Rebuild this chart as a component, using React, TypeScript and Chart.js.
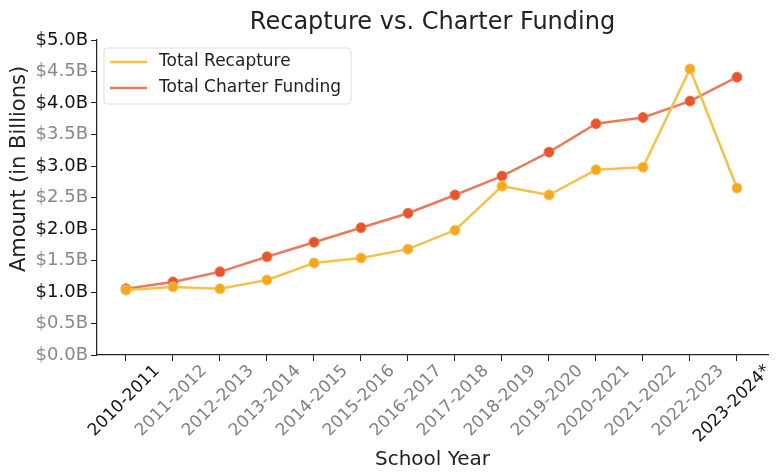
import React, { useEffect, useRef } from "react";
import { Chart, registerables } from "chart.js";

Chart.register(...registerables);

const schoolYears = [
  "2010-2011", "2011-2012", "2012-2013", "2013-2014", "2014-2015", "2015-2016", "2016-2017",
  "2017-2018", "2018-2019", "2019-2020", "2020-2021", "2021-2022", "2022-2023", "2023-2024*",
];
const totalRecapture = [1.03, 1.08, 1.05, 1.19, 1.46, 1.54, 1.68, 1.98, 2.68, 2.54, 2.94, 2.98, 4.54, 2.65];
const totalCharter = [1.05, 1.16, 1.32, 1.56, 1.79, 2.02, 2.25, 2.54, 2.84, 3.22, 3.67, 3.77, 4.03, 4.41];

const FONT = "'DejaVu Sans', sans-serif";

const textPlugin = {
  id: "customTexts",
  afterDraw(chart: any) {
    const { ctx, chartArea } = chart;
    ctx.save();
    ctx.font = `24px ${FONT}`;
    ctx.fillStyle = "#222";
    ctx.textAlign = "center";
    ctx.textBaseline = "middle";
    ctx.fillText("Recapture vs. Charter Funding", (chartArea.left + chartArea.right) / 2, 23);
    ctx.translate(20, 169);
    ctx.rotate(-Math.PI / 2);
    ctx.font = `21px ${FONT}`;
    ctx.fillText("Amount (in Billions)", 0, 0);
    ctx.restore();
  },
};

const legendPlugin = {
  id: "customLegend",
  afterDatasetsDraw(chart: any) {
    const { ctx, chartArea } = chart;
    const x0 = chartArea.left + 7;
    const y0 = chartArea.top + 8;
    ctx.save();
    ctx.fillStyle = "rgba(255,255,255,0.85)";
    ctx.strokeStyle = "#dddddd";
    ctx.lineWidth = 1;
    ctx.beginPath();
    ctx.roundRect(x0, y0, 247, 56, 3);
    ctx.fill();
    ctx.stroke();
    ctx.font = `17px ${FONT}`;
    ctx.textBaseline = "middle";
    ctx.textAlign = "left";
    chart.data.datasets.forEach((ds: any, i: number) => {
      const y = y0 + 14 + i * 26;
      ctx.strokeStyle = ds.borderColor;
      ctx.lineWidth = 2.5;
      ctx.beginPath();
      ctx.moveTo(x0 + 6, y);
      ctx.lineTo(x0 + 43, y);
      ctx.stroke();
      ctx.fillStyle = "#222";
      ctx.fillText(ds.label, x0 + 55, y);
    });
    ctx.restore();
  },
};

export default function App() {
  const ref = useRef<HTMLCanvasElement>(null);
  useEffect(() => {
    document.body.style.margin = "0";
    const chart = new Chart(ref.current!, {
      type: "line",
      data: {
        datasets: [
          {
            label: "Total Recapture",
            data: totalRecapture.map((v, i) => ({ x: i, y: v })),
            borderColor: "#f2c24c",
            borderWidth: 2.5,
            pointBackgroundColor: "#f4a822",
            pointBorderColor: "#f7c452",
            pointBorderWidth: 1,
            pointRadius: 5,
          },
          {
            label: "Total Charter Funding",
            data: totalCharter.map((v, i) => ({ x: i, y: v })),
            borderColor: "#e77c5c",
            borderWidth: 2.5,
            pointBackgroundColor: "#e8552c",
            pointBorderColor: "#ee7a55",
            pointBorderWidth: 1,
            pointRadius: 5,
          },
        ],
      },
      options: {
        animation: false,
        responsive: false,
        layout: { padding: { top: 40, right: 11, left: 0, bottom: 0 } },
        plugins: { legend: { display: false }, title: { display: false }, tooltip: { enabled: false } },
        scales: {
          x: {
            type: "linear",
            min: -0.617,
            max: 13.66,
            afterBuildTicks: (scale: any) => {
              scale.ticks = schoolYears.map((_, i) => ({ value: i }));
            },
            afterFit: (scale: any) => {
              scale.height = 117;
            },
            grid: { drawOnChartArea: false, drawTicks: true, tickLength: 6, color: "#222" },
            border: { display: true, color: "#222", width: 1.2 },
            ticks: {
              autoSkip: false,
              maxRotation: 45,
              minRotation: 45,
              labelOffset: 31,
              padding: 0,
              font: { family: FONT, size: 17 },
              color: (ctx: any) =>
                ctx.index === 0 || ctx.index === schoolYears.length - 1 ? "#111" : "#808080",
              callback: (v: any) => schoolYears[v] ?? "",
            },
            title: {
              display: true,
              text: "School Year",
              font: { family: FONT, size: 20 },
              color: "#222",
              padding: { top: 0, bottom: 0 },
            },
          },
          y: {
            min: 0,
            max: 5,
            afterFit: (scale: any) => {
              scale.width = 97;
            },
            grid: { drawOnChartArea: false, drawTicks: true, tickLength: 6, color: "#222" },
            border: { display: true, color: "#222", width: 1.2 },
            ticks: {
              stepSize: 0.5,
              padding: 3,
              font: { family: FONT, size: 18 },
              color: (ctx: any) => {
                const v = ctx.tick.value;
                return Number.isInteger(v) && v > 0 ? "#111" : "#888";
              },
              callback: (v: any) => `$${Number(v).toFixed(1)}B`,
            },
          },
        },
      },
      plugins: [textPlugin, legendPlugin],
    });
    return () => chart.destroy();
  }, []);
  return (
    <div style={{ width: 779, height: 472 }}>
      <canvas ref={ref} width={779} height={472} style={{ display: "block" }} />
    </div>
  );
}
